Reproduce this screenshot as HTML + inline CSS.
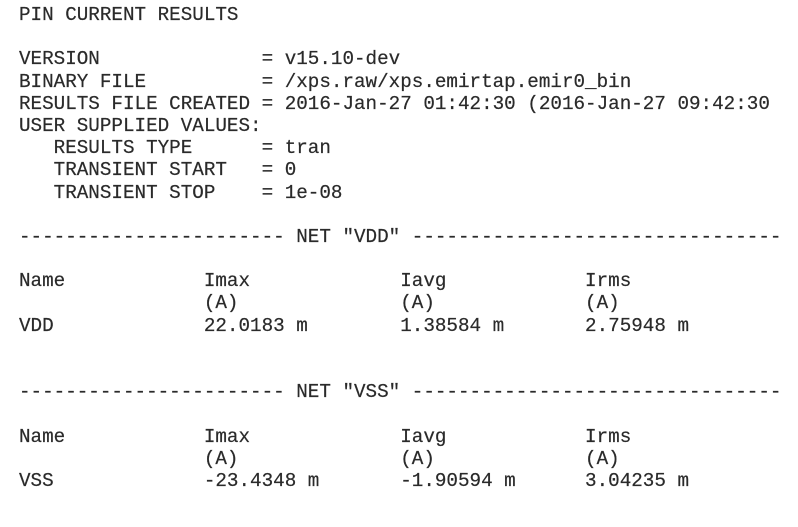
<!DOCTYPE html>
<html><head><meta charset="utf-8"><style>
html,body{margin:0;padding:0;background:#fff;width:798px;height:527px;overflow:hidden}
#r{position:absolute;left:19px;top:4px;margin:0;font-family:"Liberation Mono",monospace;font-size:19.25px;line-height:22.2px;color:#2a2a2a;-webkit-text-stroke:0.2px #2a2a2a}
.l{height:22.2px;white-space:pre}
</style></head><body>
<div id="r"><div class="l">PIN CURRENT RESULTS</div><div class="l"> </div><div class="l">VERSION              = v15.10-dev</div><div class="l">BINARY FILE          = /xps.raw/xps.emirtap.emir0_bin</div><div class="l">RESULTS FILE CREATED = 2016-Jan-27 01:42:30 (2016-Jan-27 09:42:30</div><div class="l">USER SUPPLIED VALUES:</div><div class="l">   RESULTS TYPE      = tran</div><div class="l">   TRANSIENT START   = 0</div><div class="l">   TRANSIENT STOP    = 1e-08</div><div class="l"> </div><div class="l">----------------------- NET "VDD" --------------------------------</div><div class="l"> </div><div class="l">Name            Imax             Iavg            Irms</div><div class="l">                (A)              (A)             (A)</div><div class="l">VDD             22.0183 m        1.38584 m       2.75948 m</div><div class="l"> </div><div class="l"> </div><div class="l">----------------------- NET "VSS" --------------------------------</div><div class="l"> </div><div class="l">Name            Imax             Iavg            Irms</div><div class="l">                (A)              (A)             (A)</div><div class="l">VSS             -23.4348 m       -1.90594 m      3.04235 m</div></div>
</body></html>
